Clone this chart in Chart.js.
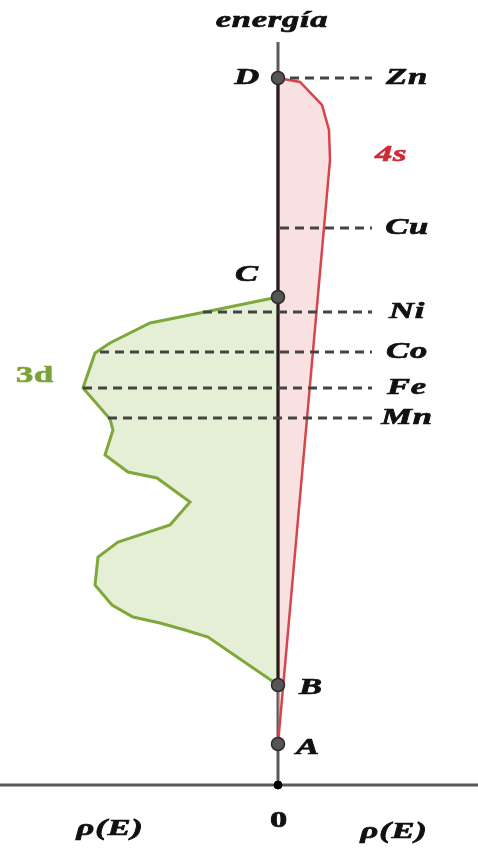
<!DOCTYPE html>
<html>
<head>
<meta charset="utf-8">
<script src="https://cdn.jsdelivr.net/npm/chart.js@4.4.1/dist/chart.umd.min.js"></script>
<style>
  html, body { margin: 0; padding: 0; background: #fff; }
  #wrap { width: 478px; height: 855px; position: relative; }
</style>
</head>
<body>
<div id="wrap"><canvas id="dosChart"></canvas></div>
<script>
// density of states rho(E) (left: 3d, right: 4s), energy upwards
const band3dRho    = [0, -7.3, -12.8, -16.8, -18.3, -19.5, -16.8, -16.5, -17.3, -15.0, -12.1, -8.8, -10.8, -16.0, -18.0, -18.3, -16.6, -14.5, -11.8, -9.3, -7.0, 0];
const band3dEnergy = [48.8, 47.3, 46.2, 44.2, 43.2, 39.7, 36.6, 35.5, 33.0, 31.3, 30.7, 28.3, 26.0, 24.3, 22.8, 20.0, 18.0, 16.8, 16.2, 15.5, 14.8, 10.0];

const band4sRho    = [0, 5.2, 5.1, 4.4, 2.2, 0];
const band4sEnergy = [4.1, 62.5, 65.5, 68.0, 70.3, 70.7];

// marked points on the energy axis
const pointNames  = ['A', 'B', 'C', 'D'];
const pointEnergy = [4.1, 10.0, 48.8, 70.7];

// Fermi levels of the metals
const metalNames  = ['Zn', 'Cu', 'Ni', 'Co', 'Fe', 'Mn'];
const metalEnergy = [70.7, 55.7, 47.3, 43.3, 39.7, 36.7];
const metalFrom   = [1.2, 0.2, -7.5, -17.8, -19.5, -17.0];
const metalTo     = [9.4, 9.4, 9.4, 9.4, 9.4, 9.7];

const xMin = -27.8, xMax = 20.0, yMin = -7.0, yMax = 78.5;
const axisTop = 74.3;

const toXY = (xs, ys) => xs.map((x, i) => ({ x: x, y: ys[i] }));

const datasets = [];

// axes
datasets.push({
    data: [{ x: xMin, y: 0 }, { x: xMax, y: 0 }],
    showLine: true, borderColor: '#5a5a5a', borderWidth: 3, pointRadius: 0, order: 9
});
datasets.push({
    data: [{ x: 0, y: 0 }, { x: 0, y: axisTop }],
    showLine: true, borderColor: '#5a5a5a', borderWidth: 3, pointRadius: 0, order: 9
});

// bands
datasets.push({
    data: toXY(band3dRho, band3dEnergy),
    showLine: true, fill: 'shape', backgroundColor: 'rgba(190,215,150,0.4)',
    borderColor: '#7fa83c', borderWidth: 3, pointRadius: 0, order: 8
});
datasets.push({
    data: toXY(band4sRho, band4sEnergy),
    showLine: true, fill: 'shape', backgroundColor: 'rgba(240,170,170,0.35)',
    borderColor: '#d7444c', borderWidth: 2.5, pointRadius: 0, order: 7
});

// black segment between B and D
datasets.push({
    data: [{ x: 0, y: pointEnergy[1] }, { x: 0, y: pointEnergy[3] }],
    showLine: true, borderColor: '#2a1a1a', borderWidth: 3, pointRadius: 0, order: 6
});

// dashed level lines
metalNames.forEach((m, i) => {
    datasets.push({
        data: [{ x: metalFrom[i], y: metalEnergy[i] }, { x: metalTo[i], y: metalEnergy[i] }],
        showLine: true, borderColor: '#444', borderWidth: 3, borderDash: [9, 6],
        pointRadius: 0, order: 5
    });
});

// points
datasets.push({
    data: pointEnergy.map(e => ({ x: 0, y: e })),
    pointRadius: 6.5, pointBackgroundColor: '#555', pointBorderColor: '#2b2b2b',
    pointBorderWidth: 1.5, order: 1
});
datasets.push({
    data: [{ x: 0, y: 0 }],
    pointRadius: 4, pointBackgroundColor: '#000', pointBorderColor: '#000', order: 1
});

// text annotations (the source image is stretched sideways, so text is too)
const labelPlugin = {
    id: 'labels',
    afterDatasetsDraw(chart) {
        const c = chart.ctx;
        const sx = chart.scales.x, sy = chart.scales.y;
        const put = (txt, x, y, color, font) => {
            c.save();
            c.fillStyle = color;
            c.strokeStyle = color;
            c.lineWidth = 0.7;
            c.font = font;
            c.letterSpacing = '0.5px';
            c.textAlign = 'center';
            c.textBaseline = 'middle';
            c.translate(sx.getPixelForValue(x), sy.getPixelForValue(y));
            c.scale(1.5, 1);
            c.fillText(txt, 0, 0);
            c.strokeText(txt, 0, 0);
            c.restore();
        };
        const f = 'italic bold 23px "Liberation Serif", "DejaVu Serif", serif';
        put('energía', -0.6, 76.4, '#111', f);
        put('D', -3.1, 70.7, '#111', f);
        put('C', -3.1, 51.0, '#111', f);
        put('B', 3.3, 9.7, '#111', f);
        put('A', 3.0, 3.7, '#111', f);
        metalNames.forEach((m, i) => put(m, 12.9, metalEnergy[i], '#111', f));
        put('4s', 11.3, 63.0, '#cc2d36', f);
        put('3d', -24.3, 40.9, '#7aa336', 'bold 23px "Liberation Serif", serif');
        put('0', 0.1, -3.6, '#111', 'bold 23px "Liberation Serif", serif');
        put('ρ(E)', -16.8, -4.4, '#111', f);
        put('ρ(E)', 11.6, -4.7, '#111', f);
    }
};

new Chart(document.getElementById('dosChart'), {
    type: 'scatter',
    data: { datasets: datasets },
    options: {
        responsive: true,
        maintainAspectRatio: false,
        animation: false,
        layout: { padding: 0, autoPadding: false },
        plugins: { legend: { display: false }, tooltip: { enabled: false } },
        scales: {
            x: { type: 'linear', min: xMin, max: xMax, display: false },
            y: { type: 'linear', min: yMin, max: yMax, display: false }
        }
    },
    plugins: [labelPlugin]
});
</script>
</body>
</html>
